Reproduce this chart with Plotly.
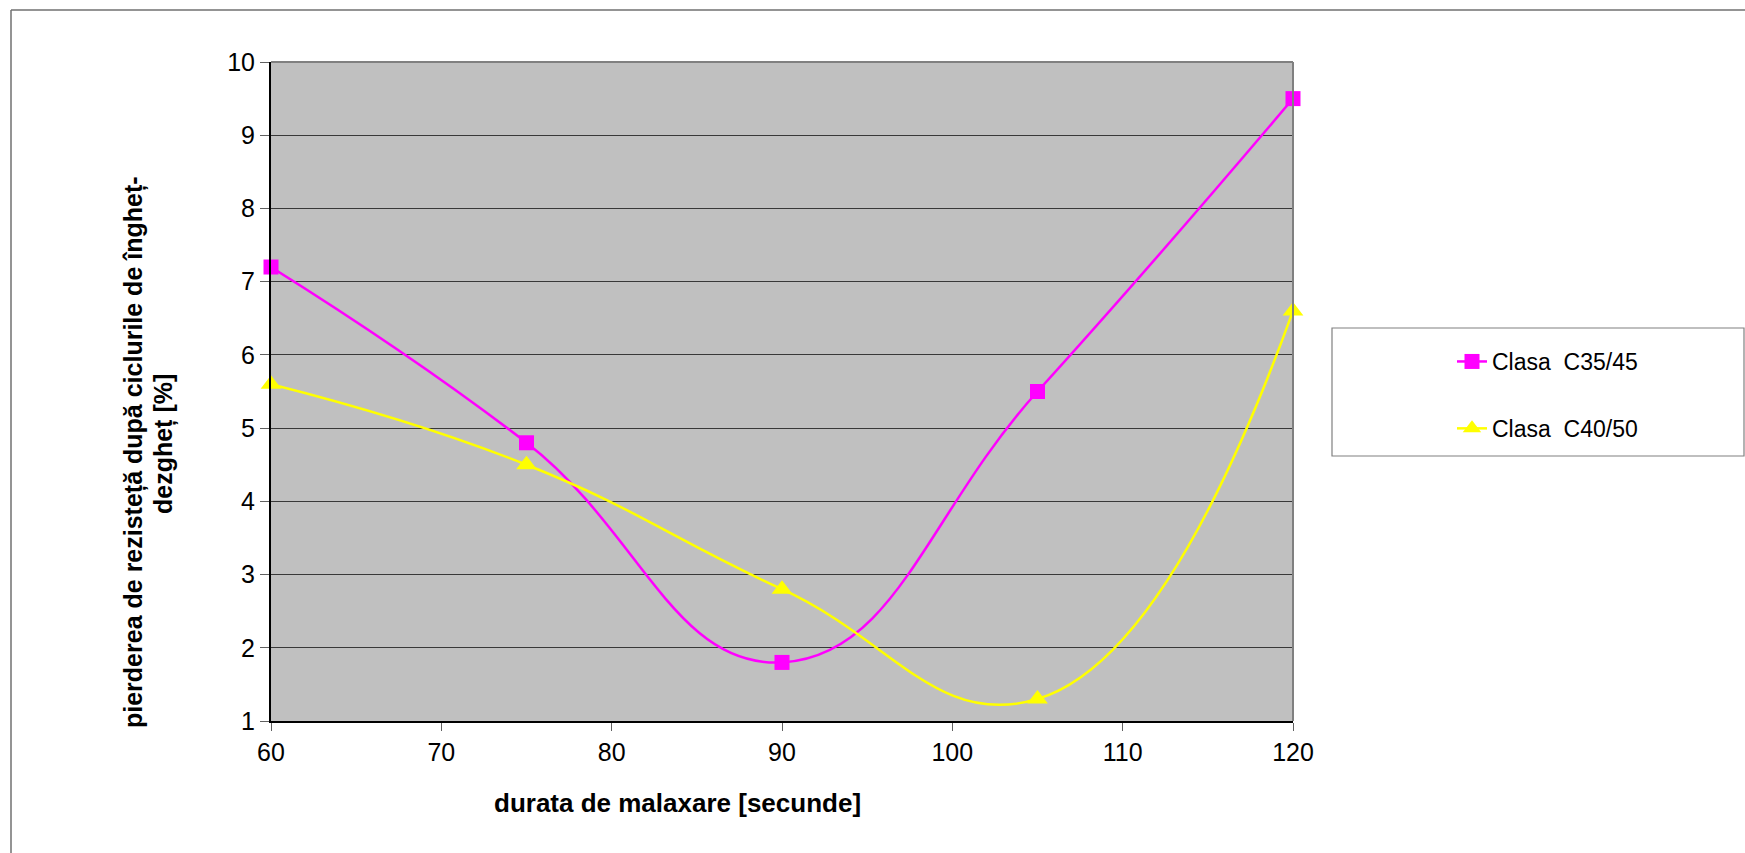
import plotly.graph_objects as go

# ---- data ----
durata = [60, 75, 90, 105, 120]
c35_45 = [7.2, 4.8, 1.8, 5.5, 9.5]
c40_50 = [5.6, 4.5, 2.8, 1.3, 6.6]
series_names = ["Clasa  C35/45", "Clasa  C40/50"]
x_ticks = [60, 70, 80, 90, 100, 110, 120]
y_ticks = [1, 2, 3, 4, 5, 6, 7, 8, 9, 10]
x_title = "durata de malaxare [secunde]"
y_title_1 = "pierderea de rezisteță după ciclurile de îngheț-"
y_title_2 = "dezgheț [%]"

W, H = 1745, 853
L, R, T, B = 271, 1293, 62, 721
PW, PH = R - L, B - T


def px(x):
    return (x - L) / PW


def py(y):
    return (B - y) / PH


FONT = "Arial, Liberation Sans, sans-serif"

fig = go.Figure()
fig.add_trace(go.Scatter(
    x=durata, y=c35_45, name=series_names[0], mode="lines+markers",
    line=dict(color="#FF00FF", width=2.5, shape="spline", smoothing=1.3),
    marker=dict(symbol="square", size=15, color="#FF00FF"),
    cliponaxis=False, legendgroup="a"))
fig.add_trace(go.Scatter(
    x=durata, y=c40_50, name=series_names[1], mode="lines+markers",
    line=dict(color="#FFFF00", width=2.5, shape="spline", smoothing=1.3),
    marker=dict(symbol="triangle-up", size=18, color="#FFFF00"),
    cliponaxis=False, legendgroup="b"))

shapes = [
    # outer chart border (left + top visible)
    dict(type="line", xref="paper", yref="paper", x0=px(11), x1=px(11), y0=py(10), y1=py(870),
         line=dict(color="#707070", width=1.5)),
    dict(type="line", xref="paper", yref="paper", x0=px(11), x1=px(1760), y0=py(10), y1=py(10),
         line=dict(color="#707070", width=1.5)),
    # plot area border top/right
    dict(type="line", xref="paper", yref="paper", x0=0, x1=1, y0=1, y1=1,
         line=dict(color="#808080", width=2)),
    dict(type="line", xref="paper", yref="paper", x0=1, x1=1, y0=0, y1=1,
         line=dict(color="#808080", width=2)),
    # legend box
    dict(type="rect", xref="paper", yref="paper", x0=px(1332), x1=px(1744), y0=py(328), y1=py(456),
         line=dict(color="#808080", width=1.2), fillcolor="rgba(0,0,0,0)"),
]

annotations = [
    dict(text=f"<b>{x_title}</b>", xref="paper", yref="paper", x=px(677), y=py(803),
         showarrow=False, xanchor="center", yanchor="middle",
         font=dict(family=FONT, size=26, color="black")),
    dict(text=f"<b>{y_title_1}</b>", xref="paper", yref="paper", x=px(133), y=py(452),
         showarrow=False, xanchor="center", yanchor="middle", textangle=-90,
         font=dict(family=FONT, size=25, color="black")),
    dict(text=f"<b>{y_title_2}</b>", xref="paper", yref="paper", x=px(163), y=py(444),
         showarrow=False, xanchor="center", yanchor="middle", textangle=-90,
         font=dict(family=FONT, size=25, color="black")),
]

fig.update_layout(
    width=W, height=H,
    margin=dict(l=L, r=W - R, t=T, b=H - B, pad=0),
    paper_bgcolor="white", plot_bgcolor="#C0C0C0",
    font=dict(family=FONT, size=23, color="black"),
    showlegend=True,
    legend=dict(x=px(1452), y=py(340), xanchor="left", yanchor="top",
                bgcolor="rgba(0,0,0,0)", borderwidth=0,
                font=dict(family=FONT, size=23, color="black"),
                tracegroupgap=34, traceorder="grouped"),
    shapes=shapes, annotations=annotations,
    xaxis=dict(range=[60, 120], tickvals=x_ticks, ticktext=[str(v) for v in x_ticks],
               showgrid=False, zeroline=False, showline=True, linecolor="black", linewidth=2,
               ticks="outside", ticklen=8, tickcolor="#606060", tickwidth=1,
               tickfont=dict(family=FONT, size=25, color="black"), fixedrange=True),
    yaxis=dict(range=[1, 10], tickvals=y_ticks, ticktext=[str(v) for v in y_ticks],
               showgrid=True, gridcolor="#383838", gridwidth=1, zeroline=False,
               showline=True, linecolor="black", linewidth=2,
               ticks="outside", ticklen=9, tickcolor="#606060", tickwidth=1,
               tickfont=dict(family=FONT, size=25, color="black"), fixedrange=True),
)

fig.write_html("out.html")
